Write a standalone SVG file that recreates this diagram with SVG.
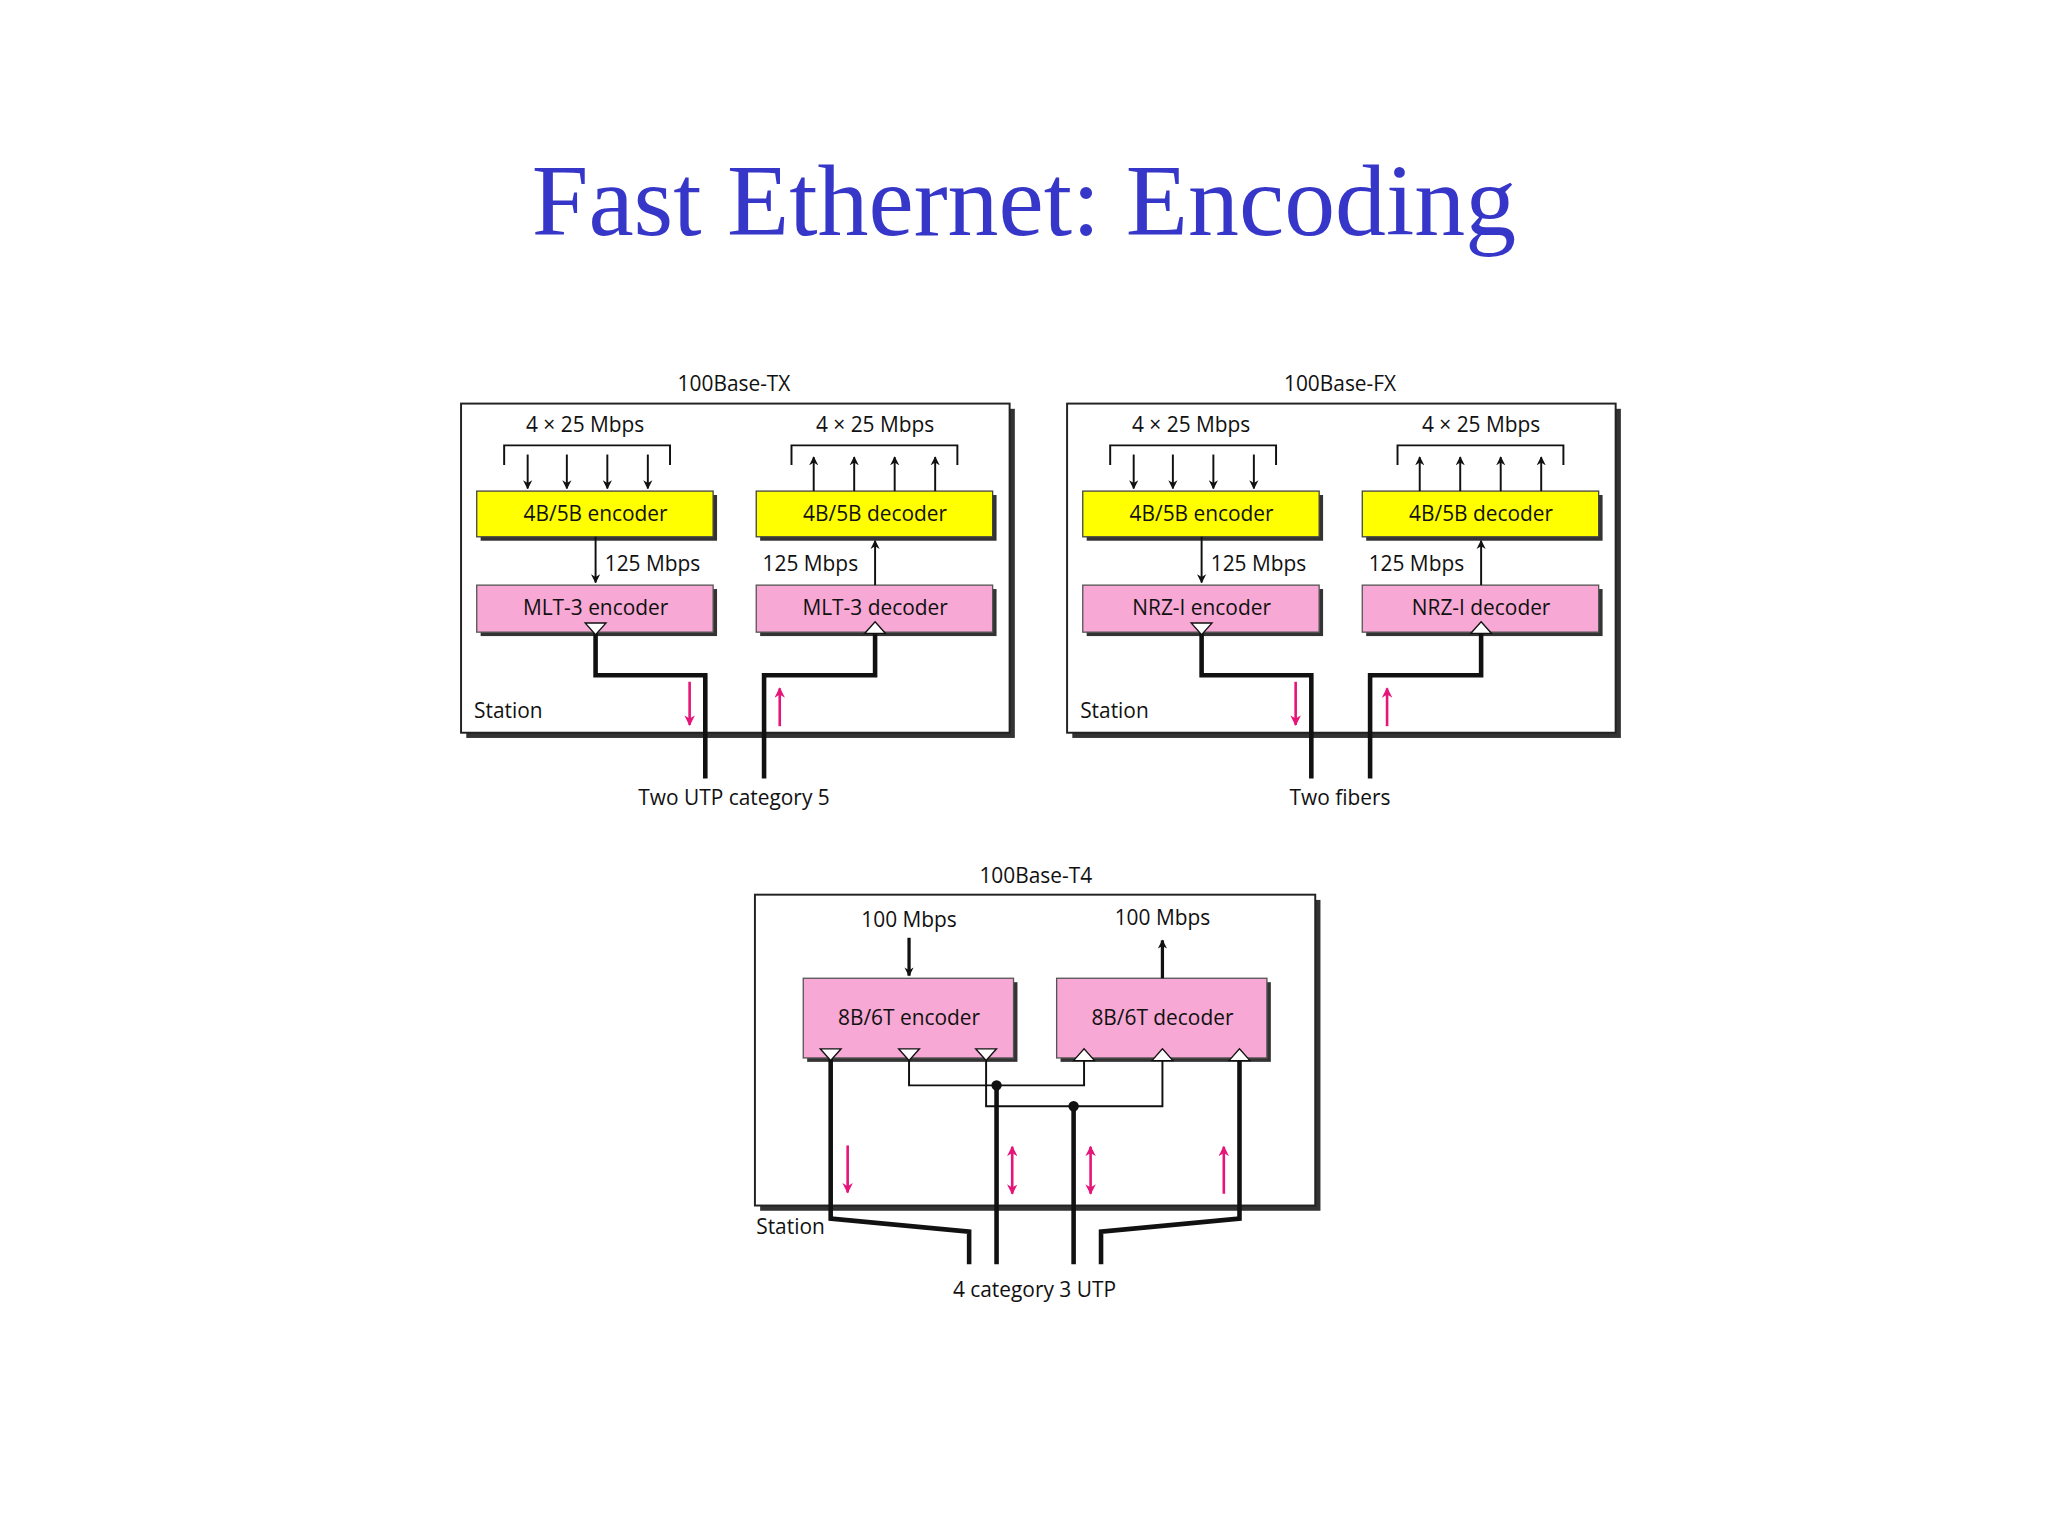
<svg xmlns="http://www.w3.org/2000/svg" width="2048" height="1536" viewBox="0 0 2048 1536">
<defs>
<style>
text{font-family:"Open Sans","Liberation Sans",sans-serif;font-size:16px;fill:#111}
.c{text-anchor:middle}
.frame{fill:#fff;stroke:#222;stroke-width:1.5}
.sh{fill:#333}
.y{fill:#ffff00;stroke:#444;stroke-width:1}
.p{fill:#f7a8d4;stroke:#555;stroke-width:1}
.thin{fill:none;stroke:#111;stroke-width:1.5}
.thick{fill:none;stroke:#111;stroke-width:3.5}
.mag{fill:none;stroke:#e6157a;stroke-width:2}
.tri{fill:#fff;stroke:#111;stroke-width:1}
</style>
<marker id="ah" viewBox="0 0 10 10" refX="9" refY="5" markerWidth="7" markerHeight="9" orient="auto" markerUnits="userSpaceOnUse"><path d="M0,0 L10,5 L0,10 L3,5 Z" fill="#111"/></marker>
<marker id="mh" viewBox="0 0 10 10" refX="9" refY="5" markerWidth="8" markerHeight="8" orient="auto-start-reverse" markerUnits="userSpaceOnUse"><path d="M0,0 L10,5 L0,10 L3,5 Z" fill="#e6157a"/></marker>
</defs>
<rect width="2048" height="1536" fill="#fff"/>
<g transform="scale(1.3061)">
<text x="784" y="180" class="c" style="font-family:'Liberation Serif','Times New Roman',serif;font-size:78px;fill:#3636c8">Fast Ethernet: Encoding</text>

<g id="tx">
<text x="562" y="299" class="c">100Base-TX</text>
<rect x="357" y="313" width="420" height="252" class="sh"/>
<rect x="353" y="309" width="420" height="252" class="frame"/>
<text x="363" y="550">Station</text>
<text x="448" y="331" class="c">4 × 25 Mbps</text>
<path d="M386,356 V341 H513 V356" class="thin" stroke-width="1"/>
<text x="670" y="331" class="c">4 × 25 Mbps</text>
<path d="M606,356 V341 H733 V356" class="thin" stroke-width="1"/>
</g>
<g id="tx-enc4b"><rect x="368" y="379" width="181" height="35" class="sh"/><rect x="365" y="376" width="181" height="35" class="y"/><text x="456" y="399" class="c">4B/5B encoder</text></g>
<g id="tx-dec4b"><rect x="582" y="379" width="181" height="35" class="sh"/><rect x="579" y="376" width="181" height="35" class="y"/><text x="670" y="399" class="c">4B/5B decoder</text></g>
<g id="tx-mlt-enc"><rect x="368" y="451" width="181" height="36" class="sh"/><rect x="365" y="448" width="181" height="36" class="p"/><text x="456" y="471" class="c">MLT-3 encoder</text></g>
<g id="tx-mlt-dec"><rect x="582" y="451" width="181" height="36" class="sh"/><rect x="579" y="448" width="181" height="36" class="p"/><text x="670" y="471" class="c">MLT-3 decoder</text></g>

<g id="fx">
<text x="1026" y="299" class="c">100Base-FX</text>
<rect x="821" y="313" width="420" height="252" class="sh"/>
<rect x="817" y="309" width="420" height="252" class="frame"/>
<text x="827" y="550">Station</text>
<text x="912" y="331" class="c">4 × 25 Mbps</text>
<path d="M850,356 V341 H977 V356" class="thin" stroke-width="1"/>
<text x="1134" y="331" class="c">4 × 25 Mbps</text>
<path d="M1070,356 V341 H1197 V356" class="thin" stroke-width="1"/>
</g>
<g id="fx-enc4b"><rect x="832" y="379" width="181" height="35" class="sh"/><rect x="829" y="376" width="181" height="35" class="y"/><text x="920" y="399" class="c">4B/5B encoder</text></g>
<g id="fx-dec4b"><rect x="1046" y="379" width="181" height="35" class="sh"/><rect x="1043" y="376" width="181" height="35" class="y"/><text x="1134" y="399" class="c">4B/5B decoder</text></g>
<g id="fx-nrz-enc"><rect x="832" y="451" width="181" height="36" class="sh"/><rect x="829" y="448" width="181" height="36" class="p"/><text x="920" y="471" class="c">NRZ-I  encoder</text></g>
<g id="fx-nrz-dec"><rect x="1046" y="451" width="181" height="36" class="sh"/><rect x="1043" y="448" width="181" height="36" class="p"/><text x="1134" y="471" class="c">NRZ-I decoder</text></g>

<g id="t4">
<text x="793" y="676" class="c">100Base-T4</text>
<rect x="582" y="689" width="429" height="238" class="sh"/>
<rect x="578" y="685" width="429" height="238" class="frame"/>
<text x="696" y="710" class="c">100 Mbps</text>
<text x="890" y="708" class="c">100 Mbps</text>
</g>
<g id="t4-enc"><rect x="618" y="752" width="161" height="61" class="sh"/><rect x="615" y="749" width="161" height="61" class="p"/><text x="696" y="785" class="c">8B/6T encoder</text></g>
<g id="t4-dec"><rect x="812" y="752" width="161" height="61" class="sh"/><rect x="809" y="749" width="161" height="61" class="p"/><text x="890" y="785" class="c">8B/6T decoder</text></g>

<g id="connectors">
<g marker-end="url(#ah)" class="thin">
<path d="M404,348 V374"/><path d="M434,348 V374"/><path d="M465,348 V374"/><path d="M496,348 V374"/>
<path d="M623,376 V350"/><path d="M654,376 V350"/><path d="M685,376 V350"/><path d="M716,376 V350"/>
<path d="M456,411 V446"/><path d="M670,448 V414"/>
<path d="M868,348 V374"/><path d="M898,348 V374"/><path d="M929,348 V374"/><path d="M960,348 V374"/>
<path d="M1087,376 V350"/><path d="M1118,376 V350"/><path d="M1149,376 V350"/><path d="M1180,376 V350"/>
<path d="M920,411 V446"/><path d="M1134,448 V414"/>
<path d="M696,718 V747" stroke-width="2.5"/><path d="M890,749 V720" stroke-width="2.5"/>
</g>
<text x="463" y="437">125 Mbps</text>
<text x="657" y="437" text-anchor="end">125 Mbps</text>
<text x="927" y="437">125 Mbps</text>
<text x="1121" y="437" text-anchor="end">125 Mbps</text>

<path d="M456,485 V517 H540 V596" class="thick"/>
<path d="M670,485 V517 H585 V596" class="thick"/>
<path d="M920,485 V517 H1004 V596" class="thick"/>
<path d="M1134,485 V517 H1049 V596" class="thick"/>
<path d="M448,477 H464 L456,486 Z" class="tri"/>
<path d="M662,485 H678 L670,476 Z" class="tri"/>
<path d="M912,477 H928 L920,486 Z" class="tri"/>
<path d="M1126,485 H1142 L1134,476 Z" class="tri"/>
<path d="M528,522 V555" class="mag" marker-end="url(#mh)"/>
<path d="M597,556 V527" class="mag" marker-end="url(#mh)"/>
<path d="M992,522 V555" class="mag" marker-end="url(#mh)"/>
<path d="M1062,556 V527" class="mag" marker-end="url(#mh)"/>
<text x="562" y="616" class="c">Two UTP category 5</text>
<text x="1026" y="616" class="c">Two fibers</text>

<path d="M636,811 V933 L742,943 V968" class="thick"/>
<path d="M949,811 V933 L843,943 V968" class="thick"/>
<path d="M763,831 V968" class="thick"/>
<path d="M822,847 V968" class="thick"/>
<path d="M696,811 V831 H830 V811" class="thin"/>
<path d="M755,811 V847 H890 V811" class="thin"/>
<circle cx="763" cy="831" r="4" fill="#111"/>
<circle cx="822" cy="847" r="4" fill="#111"/>
<path d="M628,803 H644 L636,812 Z" class="tri"/>
<path d="M688,803 H704 L696,812 Z" class="tri"/>
<path d="M747,803 H763 L755,812 Z" class="tri"/>
<path d="M822,812 H838 L830,803 Z" class="tri"/>
<path d="M882,812 H898 L890,803 Z" class="tri"/>
<path d="M941,812 H957 L949,803 Z" class="tri"/>
<path d="M649,877 V913" class="mag" marker-end="url(#mh)"/>
<path d="M775,878 V914" class="mag" marker-start="url(#mh)" marker-end="url(#mh)"/>
<path d="M835,878 V914" class="mag" marker-start="url(#mh)" marker-end="url(#mh)"/>
<path d="M937,914 V878" class="mag" marker-end="url(#mh)"/>
<text x="579" y="945">Station</text>
<text x="792" y="993" class="c">4 category 3 UTP</text>
</g>
</g>
</svg>
